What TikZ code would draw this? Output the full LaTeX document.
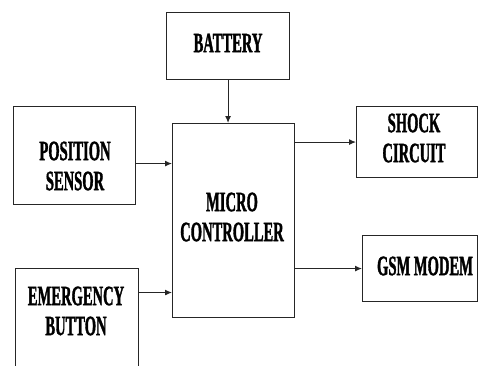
\documentclass[tikz,border=0pt]{standalone}
\usepackage{fontspec}
\newfontfamily\lblfont{Liberation Serif Bold}[FakeStretch=0.52,FakeBold=1.2]
\usetikzlibrary{arrows.meta}
\begin{document}
\begin{tikzpicture}[x=1pt,y=-1pt,
  box/.style={draw=black!85,line width=1.1pt,rectangle,inner sep=0pt,anchor=north west},
  lbl/.style={font=\lblfont\fontsize{28}{30}\selectfont,align=center,inner sep=0pt},
  arr/.style={draw=black!85,line width=1.1pt,-{Latex[length=7pt,width=6pt]}}]
\useasboundingbox (0,0) rectangle (478,365);
\clip (0,0) rectangle (478,365);
% boxes
\node[box,minimum width=123pt,minimum height=67pt] (bat) at (166,12) {};
\node[box,minimum width=122pt,minimum height=194pt] (mc) at (172,123) {};
\node[box,minimum width=122pt,minimum height=98pt] (ps) at (13,106) {};
\node[box,minimum width=123pt,minimum height=120pt] (eb) at (15,268) {};
\node[box,minimum width=121pt,minimum height=71pt] (sc) at (356,106) {};
\node[box,minimum width=115pt,minimum height=66pt] (gsm) at (362,235) {};
% labels
\node[lbl] (batl) at (228,43) {BATTERY};
\node[lbl] (mcl) at (232,217) {MICRO\\CONTROLLER};
\node[lbl] (psl) at (75,166) {POSITION\\SENSOR};
\node[lbl] (ebl) at (76,311) {EMERGENCY\\BUTTON};
\node[lbl] (scl) at (414,138) {SHOCK\\CIRCUIT};
\node[lbl] (gsml) at (425,266) {GSM MODEM};
% connectors
\draw[arr] (bat.south) -- (bat.south |- mc.north);
\draw[arr] ([yshift=-8pt]ps.east) coordinate (p1) -- (p1 -| mc.west);
\coordinate (p2) at (eb.east |- 0,292.5);
\draw[arr] (p2) -- (p2 -| mc.west);
\draw[arr] (sc.west -| mc.east) -- (sc.west);
\draw[arr] (gsm.west -| mc.east) -- (gsm.west);
\end{tikzpicture}
\end{document}
